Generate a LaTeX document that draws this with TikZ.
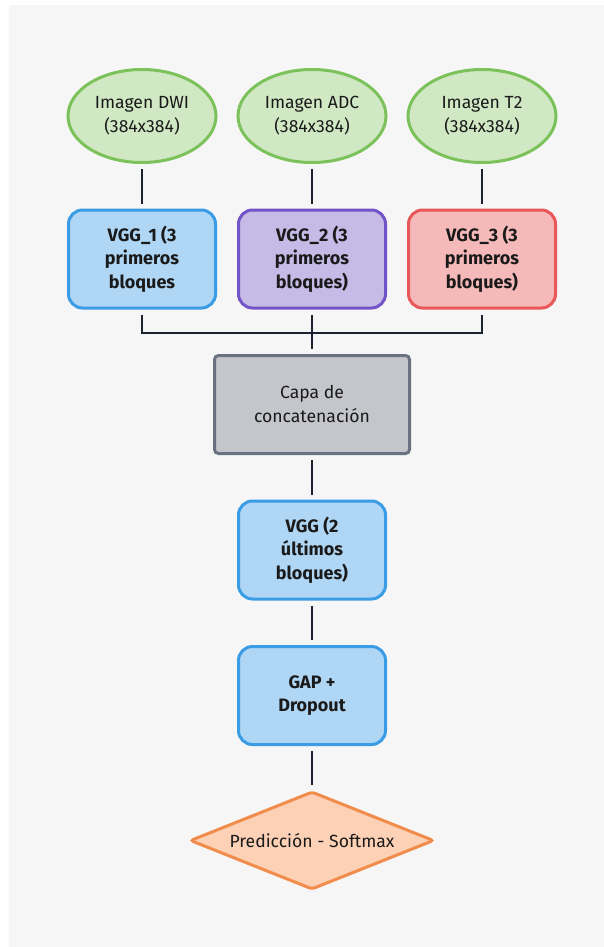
\documentclass[tikz,border=0pt]{standalone}
\usepackage{fontspec}
\setmainfont{Fira Sans}
\usetikzlibrary{shapes.geometric}
\definecolor{pagebg}{HTML}{F6F6F6}
\definecolor{ink}{HTML}{1C2230}
\definecolor{txt}{HTML}{1A1A1A}
\definecolor{grnfill}{HTML}{D0E8C4}
\definecolor{grnline}{HTML}{7CC25A}
\definecolor{blufill}{HTML}{AFD6F4}
\definecolor{bluline}{HTML}{3B9CE6}
\definecolor{purfill}{HTML}{C5BBE6}
\definecolor{purline}{HTML}{7254C8}
\definecolor{redfill}{HTML}{F6B9B9}
\definecolor{redline}{HTML}{E85858}
\definecolor{gryfill}{HTML}{C4C6CC}
\definecolor{gryline}{HTML}{6A7180}
\definecolor{orgfill}{HTML}{FDD1B6}
\definecolor{orgline}{HTML}{F28C4C}
\begin{document}
\begin{tikzpicture}[x=1pt,y=-1pt,
  every node/.style={text=txt,align=center,font=\fontsize{17.6}{24}\selectfont},
  inputimg/.style={ellipse,draw=grnline,fill=grnfill,line width=3pt,
    minimum width=148pt,minimum height=93pt,inner sep=0pt},
  block/.style={rectangle,rounded corners=14pt,line width=3pt,
    minimum width=147pt,minimum height=98pt,inner sep=0pt,
    font=\fontsize{18}{23.5}\selectfont\bfseries},
  bluebox/.style={block,draw=bluline,fill=blufill},
  purplebox/.style={block,draw=purline,fill=purfill},
  redbox/.style={block,draw=redline,fill=redfill},
  concatbox/.style={rectangle,rounded corners=4pt,line width=3pt,draw=gryline,fill=gryfill,
    minimum width=195pt,minimum height=98pt,inner sep=0pt},
  outdiamond/.style={diamond,draw=orgline,fill=orgfill,line width=3pt,rounded corners=3pt,
    shape aspect=2.45,minimum width=244pt,minimum height=98pt,inner sep=0pt},
  link/.style={draw=ink,line width=2.5pt,shorten <=5pt,shorten >=5pt},
  joinlink/.style={draw=ink,line width=2.5pt,shorten <=5pt}
]
\useasboundingbox (0,0) rectangle (604,947);
\fill[pagebg] (9,5) rectangle (604,947);

% inputs
\node[inputimg] (dwi) at (142,116) {Imagen DWI\\(384x384)};
\node[inputimg] (adc) at (312,116) {Imagen ADC\\(384x384)};
\node[inputimg] (t2)  at (482,116) {Imagen T2\\(384x384)};

% per-modality feature extractors
\node[bluebox]   (vgga) at (142,259) {VGG\_1 (3\\primeros\\bloques};
\node[purplebox] (vggb) at (312,259) {VGG\_2 (3\\primeros\\bloques)};
\node[redbox]    (vggc) at (482,259) {VGG\_3 (3\\primeros\\bloques)};

% fusion and head
\node[concatbox] (cat) at (312,404.5) {Capa de\\concatenación};
\node[bluebox] (vggd) at (312,550) {VGG (2\\últimos\\bloques)};
\node[bluebox] (gap)  at (312,695.5) {GAP +\\Dropout};
\node[outdiamond] (pred) at (312,840.5) {Predicción - Softmax};

\coordinate (junc) at (312,333);

% connectors
\draw[link] (dwi) -- (vgga);
\draw[link] (adc) -- (vggb);
\draw[link] (t2) -- (vggc);
\draw[joinlink] (vgga) |- (junc);
\draw[joinlink] (vggc) |- (junc);
\draw[link] (vggb) -- (cat);
\draw[link] (cat) -- (vggd);
\draw[link] (vggd) -- (gap);
\draw[link] (gap) -- (pred);
\end{tikzpicture}
\end{document}
